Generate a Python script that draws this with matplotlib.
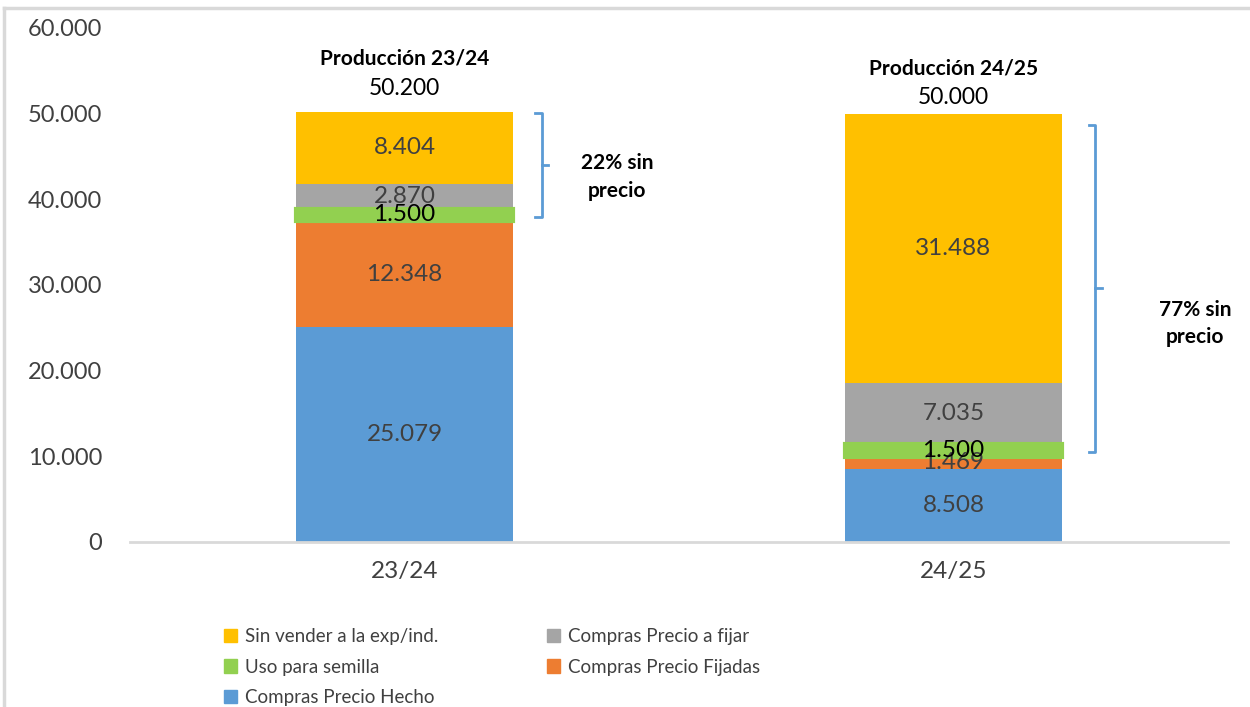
import matplotlib.pyplot as plt
from matplotlib.lines import Line2D
from matplotlib.patches import Patch

# datos
campanias = ['23/24', '24/25']
precio_hecho = [25079, 8508]
precio_fijadas = [12348, 1469]
semilla = [1500, 1500]
precio_a_fijar = [2870, 7035]
sin_vender = [8404, 31488]
produccion = [50200, 50000]
titulos = ['Producción 23/24', 'Producción 24/25']
sin_precio = ['22% sin\nprecio', '77% sin\nprecio']

plt.rcParams['font.family'] = ['Lato', 'DejaVu Sans']

azul = '#5b9bd5'
naranja = '#ed7d31'
verde = '#92d050'
gris = '#a5a5a5'
amarillo = '#ffc000'
txt = '#404040'

fig = plt.figure(figsize=(12.5, 7.07), dpi=100)
ax = fig.add_axes([0.104, 0.2334, 0.8784, 0.727])

x = [0, 1]
w = 0.397
fmt = lambda v: f'{v:,}'.replace(',', '.')

series = [
    (precio_hecho, azul, txt),
    (precio_fijadas, naranja, txt),
    (semilla, verde, 'black'),
    (precio_a_fijar, gris, txt),
    (sin_vender, amarillo, txt),
]

base = [0, 0]
for vals, col, tcol in series:
    if col == verde:
        ax.bar(x, vals, w, bottom=base, color=col, edgecolor=col, linewidth=3, zorder=3)
    else:
        ax.bar(x, vals, w, bottom=base, color=col, zorder=2)
    for i in range(2):
        ax.text(x[i], base[i] + vals[i] / 2, fmt(vals[i]), ha='center', va='center',
                fontsize=17.5, color=tcol, zorder=4)
    base = [base[i] + vals[i] for i in range(2)]

# titulos de produccion
y_total = [52900, 51850]
y_titulo = [56400, 55250]
for i in range(2):
    ax.text(x[i], y_total[i], fmt(produccion[i]), ha='center', va='center',
            fontsize=16.5, color='black')
    ax.text(x[i], y_titulo[i], titulos[i], ha='center', va='center',
            fontsize=15, fontweight='bold', color='black')

# llaves
def llave(xb, y0, y1, ym):
    d = 0.012
    ax.plot([xb - d, xb, xb, xb - d], [y1, y1, y0, y0], color=azul, lw=2, clip_on=False)
    ax.plot([xb, xb + d], [ym, ym], color=azul, lw=2, clip_on=False)

llave(0.25, 37900, 50100, 44000)
ax.text(0.387, 42600, sin_precio[0], ha='center', va='center', fontsize=15,
        fontweight='bold', linespacing=1.45)
llave(1.258, 10500, 48650, 29700)
ax.text(1.44, 25500, sin_precio[1], ha='center', va='center', fontsize=15,
        fontweight='bold', linespacing=1.45)

ax.set_xlim(-0.5, 1.5)
ax.set_ylim(0, 60000)
ax.set_yticks(range(0, 60001, 10000))
ax.set_yticklabels([fmt(v) for v in range(0, 60001, 10000)])
ax.set_xticks(x)
ax.set_xticklabels(campanias)
ax.tick_params(axis='y', length=0, pad=20, labelsize=17, labelcolor=txt)
ax.tick_params(axis='x', length=0, pad=14, labelsize=17.5, labelcolor=txt)
for s in ['top', 'right', 'left']:
    ax.spines[s].set_visible(False)
ax.spines['bottom'].set_color('#d9d9d9')
ax.spines['bottom'].set_linewidth(2)

# leyenda
h = [Patch(color=amarillo), Patch(color=verde), Patch(color=azul),
     Patch(color=gris), Patch(color=naranja)]
labs = ['Sin vender a la exp/ind.', 'Uso para semilla', 'Compras Precio Hecho',
        'Compras Precio a fijar', 'Compras Precio Fijadas']
leg = fig.legend(h, labs, ncol=2, loc='upper left', bbox_to_anchor=(0.172, 0.125),
                 frameon=False, fontsize=13.5, handlelength=0.7, handleheight=0.7,
                 handletextpad=0.4, columnspacing=5.8, labelspacing=0.72, borderpad=0)
for t in leg.get_texts():
    t.set_color(txt)

# borde
fig.add_artist(Line2D([0.003, 0.003], [0, 0.988], color='#d9d9d9', lw=2.5))
fig.add_artist(Line2D([0.003, 1], [0.988, 0.988], color='#d9d9d9', lw=2.5))

fig.savefig('out.png', dpi=100)
